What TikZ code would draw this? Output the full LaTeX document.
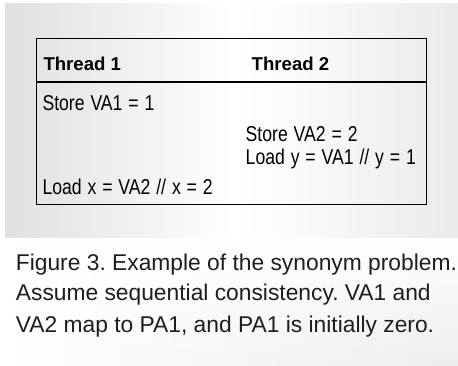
\documentclass[tikz,border=0pt]{standalone}
\usepackage{fontspec}
\setmainfont{Liberation Sans}
\newfontfamily\narrowsans[FakeStretch=0.82, WordSpace=1.2]{Liberation Sans}
\usetikzlibrary{fadings}
\frenchspacing

\definecolor{capgrey}{RGB}{196,197,199}
\definecolor{captext}{RGB}{30,30,30}

% light grey at the sides, white across the middle
\pgfdeclarehorizontalshading{panelshade}{100bp}{
  rgb(0bp)=(0.82,0.825,0.835);
  rgb(22bp)=(0.86,0.865,0.87);
  rgb(40bp)=(0.95,0.95,0.955);
  rgb(50bp)=(1,1,1);
  rgb(58bp)=(0.98,0.98,0.98);
  rgb(80bp)=(0.9,0.9,0.905);
  rgb(100bp)=(0.83,0.835,0.845)}

% white at the top, fully see-through at the bottom
\tikzfading[name=capfade, top color=transparent!0, bottom color=transparent!100]

\tikzset{
  celltext/.style={anchor=base west, inner sep=0pt, font=\narrowsans\fontsize{21.5}{24}\selectfont, text=black},
  headtext/.style={anchor=base west, inner sep=0pt, font=\fontsize{18.6}{20}\selectfont\bfseries, text=black},
  captionline/.style={anchor=base west, inner sep=0pt, font=\fontsize{22.8}{28}\selectfont, text=captext},
  frame/.style={draw=black, line width=1.8pt},
}

\begin{document}
\begin{tikzpicture}[x=1pt, y=-1pt]
  \useasboundingbox (0,0) rectangle (458,366);
  \fill[white] (0,0) rectangle (458,366);

  % grey panel behind the table
  \shade[shading=panelshade] (5,4) rectangle (458,238.5);

  % caption background
  \shade[left color=white, middle color=capgrey, right color=white!70!capgrey]
    (0,238.5) rectangle (458,366);
  \fill[white, path fading=capfade] (0,238.5) rectangle (458,366);

  % table frame and header rule
  \node[frame, anchor=north west, minimum width=390pt, minimum height=166pt,
        inner sep=0pt, outer sep=0pt] (table) at (36.5,38.5) {};
  \coordinate (ruleL) at (36.5,82.3);
  \coordinate (ruleR) at (426.5,82.3);
  \draw[frame] (ruleL) -- (ruleR);

  % column headings
  \node[headtext] (th1) at (43.3,70.7) {Thread 1};
  \node[headtext] (th2) at (251.5,70.7) {Thread 2};

  % operations
  \node[celltext] (op1) at (42.3,111) {Store VA1 = 1};
  \node[celltext] (op2) at (245.5,142) {Store VA2 = 2};
  \node[celltext] (op3) at (245.5,164.5) {Load y = VA1 // y = 1};
  \node[celltext] (op4) at (42.3,195) {Load x = VA2 // x = 2};

  % caption
  \node[captionline] (cap1) at (15.7,270) {Figure 3. Example of the synonym problem.};
  \node[captionline] (cap2) at (15.7,301) {Assume sequential consistency. VA1 and};
  \node[captionline] (cap3) at (15.7,332) {VA2 map to PA1, and PA1 is initially zero.};
\end{tikzpicture}
\end{document}
